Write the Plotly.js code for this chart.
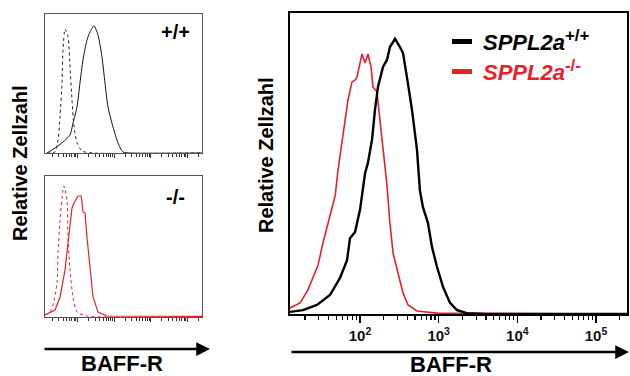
<!DOCTYPE html>
<html>
<head>
<meta charset="utf-8">
<script src="https://cdn.plot.ly/plotly-3.0.1.min.js"></script>
<style>html,body{margin:0;padding:0;background:#fff;}#chart{width:630px;height:376px;}</style>
</head>
<body>
<div id="chart"></div>
<script>
// ---- Data (BAFF-R intensity, relative cell count in % of axis height) ----
// Main panel: SPPL2a +/+ (black)
const mainWT_x = [12.9,18.8,28.4,41.5,55.7,68.4,74.6,86.4,100,109,116,126,142,155,169,196,220,240,279,322,352,395,458,530,578,631,731,822,952,1135,1393,1709,2291,4000,300000];
const mainWT_y = [0.7,1.3,3.0,6.3,12.0,17.9,25.2,27.2,34.6,41.5,46.8,50.2,57.8,67.8,75.4,82.1,84.4,88.7,91.4,88.7,86.7,78.7,67.8,54.5,40.9,35.5,30.2,22.3,15.6,9.0,3.7,1.3,0.3,0,0];
// Main panel: SPPL2a -/- (red)
const mainKO_x = [12.9,17.3,21.8,25.3,29.3,33.8,39.2,45.4,48.5,52.5,60.8,70.3,79.1,86.4,91.6,100,106,116,126,138,146,164,180,196,220,240,263,304,352,408,530,952,2037,300000];
const mainKO_y = [2.0,3.7,8.0,12.3,16.3,23.6,30.2,36.9,39.5,47.8,60.1,71.1,77.1,77.7,78.7,83.4,86.4,83.4,86.4,82.1,75.4,73.8,64.5,54.5,42.9,30.2,20.3,13.6,7.0,3.0,1.0,0.3,0.2,0];
// Small panel +/+ : isotype (dotted) and BAFF-R (solid)
const wtIso_x = [14.6,24.2,29.2,33.1,37.5,39.9,45.3,54.7,62.0,70.3,79.7,96.2,132,263,300000];
const wtIso_y = [0,0.7,9.4,25.9,50.4,74.1,89.2,83.5,61.9,38.1,18.7,7.2,1.4,0,0];
const wtStain_x = [14.6,24.2,39.9,62.0,74.8,96.2,116,140,180,218,280,360,462,558,675,924,1265,1730,2685,300000];
const wtStain_y = [0,3.6,7.9,12.9,21.6,33.1,50.4,67.0,81.3,87.1,91.4,84.9,69.1,50.4,33.1,18.7,7.2,0.7,0,0];
// Small panel -/- : isotype (dotted) and BAFF-R (solid)
const koIso_x = [12.9,17.6,21.3,27.4,29.2,33.1,39.9,42.5,51.3,54.7,62.0,74.8,96.2,180,300000];
const koIso_y = [1.4,3.5,8.5,24.1,45.4,68.8,90.1,92.9,83.0,56.7,33.3,14.2,3.5,0.7,0.5];
const koStain_x = [12.9,24.2,33.1,45.3,54.7,70.3,79.7,96.2,102,124,132,140,159,180,218,263,360,633,300000];
const koStain_y = [1.4,5.0,14.2,33.3,52.5,77.3,80.9,84.4,85.8,85.8,81.6,74.5,73.8,56.7,33.3,14.2,3.5,0.7,0.5];

const tickVals = [100, 1000, 10000, 100000];
const tickText = ['<b>10<sup>2</sup></b>', '<b>10<sup>3</sup></b>', '<b>10<sup>4</sup></b>', '<b>10<sup>5</sup></b>'];
const minorVals = [];
[10, 100, 1000, 10000, 100000].forEach(d => { for (let k = 2; k <= 9; k++) minorVals.push(d * k); });

const RED = '#e8202a';
const xRange = [1.11, 5.394];
const FONT = 'Liberation Sans, Arial, sans-serif';

const traces = [
  {x: wtIso_x, y: wtIso_y, xaxis: 'x', yaxis: 'y', mode: 'lines', line: {color: '#222', width: 1, dash: 'dot', shape: 'spline', smoothing: 0.6}},
  {x: wtStain_x, y: wtStain_y, xaxis: 'x', yaxis: 'y', mode: 'lines', line: {color: '#111', width: 1, shape: 'spline', smoothing: 0.6}},
  {x: koIso_x, y: koIso_y, xaxis: 'x2', yaxis: 'y2', mode: 'lines', line: {color: RED, width: 1, dash: 'dot', shape: 'spline', smoothing: 0.6}},
  {x: koStain_x, y: koStain_y, xaxis: 'x2', yaxis: 'y2', mode: 'lines', line: {color: RED, width: 1.2}},
  {x: mainKO_x, y: mainKO_y, xaxis: 'x3', yaxis: 'y3', mode: 'lines', line: {color: RED, width: 1.6}},
  {x: mainWT_x, y: mainWT_y, xaxis: 'x3', yaxis: 'y3', mode: 'lines', line: {color: '#000', width: 2.4}}
];

function smallX(domain, anchor) {
  return {domain: domain, anchor: anchor, type: 'log', range: xRange, showgrid: false, zeroline: false,
    showline: true, mirror: true, linecolor: '#555', linewidth: 1,
    tickmode: 'array', tickvals: tickVals, showticklabels: false, ticks: 'outside', ticklen: 4, tickwidth: 1, tickcolor: '#333',
    minor: {tickmode: 'array', tickvals: minorVals, ticks: 'outside', ticklen: 2.5, tickwidth: 1, tickcolor: '#333'}};
}
function smallY(domain, anchor, lc) {
  return {domain: domain, anchor: anchor, range: [0, 100], showgrid: false, zeroline: false, showticklabels: false, ticks: '',
    showline: true, mirror: true, linecolor: lc, linewidth: 1};
}

const P = (px) => px / 630;
const Q = (py) => 1 - py / 376;
function label(text, px, py, size, opts) {
  return Object.assign({text: text, xref: 'paper', yref: 'paper', x: P(px), y: Q(py), xanchor: 'center', yanchor: 'middle',
    showarrow: false, font: {size: size, color: '#000'}}, opts || {});
}

const layout = {
  width: 630, height: 376, margin: {l: 0, r: 0, t: 0, b: 0},
  paper_bgcolor: '#fff', plot_bgcolor: '#fff', showlegend: false,
  font: {family: FONT, color: '#000'},
  xaxis: smallX([P(45), P(202)], 'y'),
  yaxis: smallY([Q(153), Q(14)], 'x', '#555'),
  xaxis2: smallX([P(45), P(202)], 'y2'),
  yaxis2: smallY([Q(317), Q(176)], 'x2', '#555'),
  xaxis3: {domain: [P(290), P(627)], anchor: 'y3', type: 'log', range: xRange, showgrid: false, zeroline: false,
    showline: true, mirror: true, linecolor: '#000', linewidth: 2,
    tickmode: 'array', tickvals: tickVals, ticktext: tickText, ticks: 'outside', ticklen: 7, tickwidth: 1.5, tickcolor: '#000',
    tickfont: {family: FONT, size: 15, color: '#111'},
    minor: {tickmode: 'array', tickvals: minorVals, ticks: 'outside', ticklen: 4, tickwidth: 1.2, tickcolor: '#000'}},
  yaxis3: {domain: [Q(314), Q(13)], anchor: 'x3', range: [0, 100], showgrid: false, zeroline: false, showticklabels: false, ticks: '',
    showline: true, mirror: true, linecolor: '#000', linewidth: 2},
  shapes: [
    {type: 'rect', xref: 'paper', yref: 'paper', x0: P(452), x1: P(472), y0: Q(44), y1: Q(39), fillcolor: '#000', line: {width: 0}},
    {type: 'rect', xref: 'paper', yref: 'paper', x0: P(452), x1: P(472), y0: Q(74), y1: Q(69), fillcolor: RED, line: {width: 0}}
  ],
  annotations: [
    label('<b>+/+</b>', 175, 32, 20),
    label('<b>-/-</b>', 175, 197, 20),
    label('<b>Relative Zellzahl</b>', 20, 163, 20, {textangle: -90}),
    label('<b>Relative Zellzahl</b>', 266, 155, 20, {textangle: -90}),
    label('<b>BAFF-R</b>', 122, 363, 22),
    label('<b>BAFF-R</b>', 451, 364, 22),
    {text: '', xref: 'paper', yref: 'paper', x: P(210), y: Q(349), ax: P(43), ay: Q(349), axref: 'paper', ayref: 'paper',
      showarrow: true, arrowhead: 2, arrowsize: 1.1, arrowwidth: 2.5, arrowcolor: '#000'},
    {text: '', xref: 'paper', yref: 'paper', x: P(630), y: Q(352), ax: P(290), ay: Q(352), axref: 'paper', ayref: 'paper',
      showarrow: true, arrowhead: 2, arrowsize: 1.1, arrowwidth: 2.5, arrowcolor: '#000'},
    label('<b><i>SPPL2a</i><sup><span style="font-size:17px">+/+</span></sup></b>', 481, 40, 22, {xanchor: 'left'}),
    label('<b><i>SPPL2a</i><sup><span style="font-size:17px">-/-</span></sup></b>', 481, 70, 22, {xanchor: 'left', font: {size: 22, color: RED}})
  ]
};

Plotly.newPlot('chart', traces, layout, {staticPlot: true, displayModeBar: false});
</script>
</body>
</html>
